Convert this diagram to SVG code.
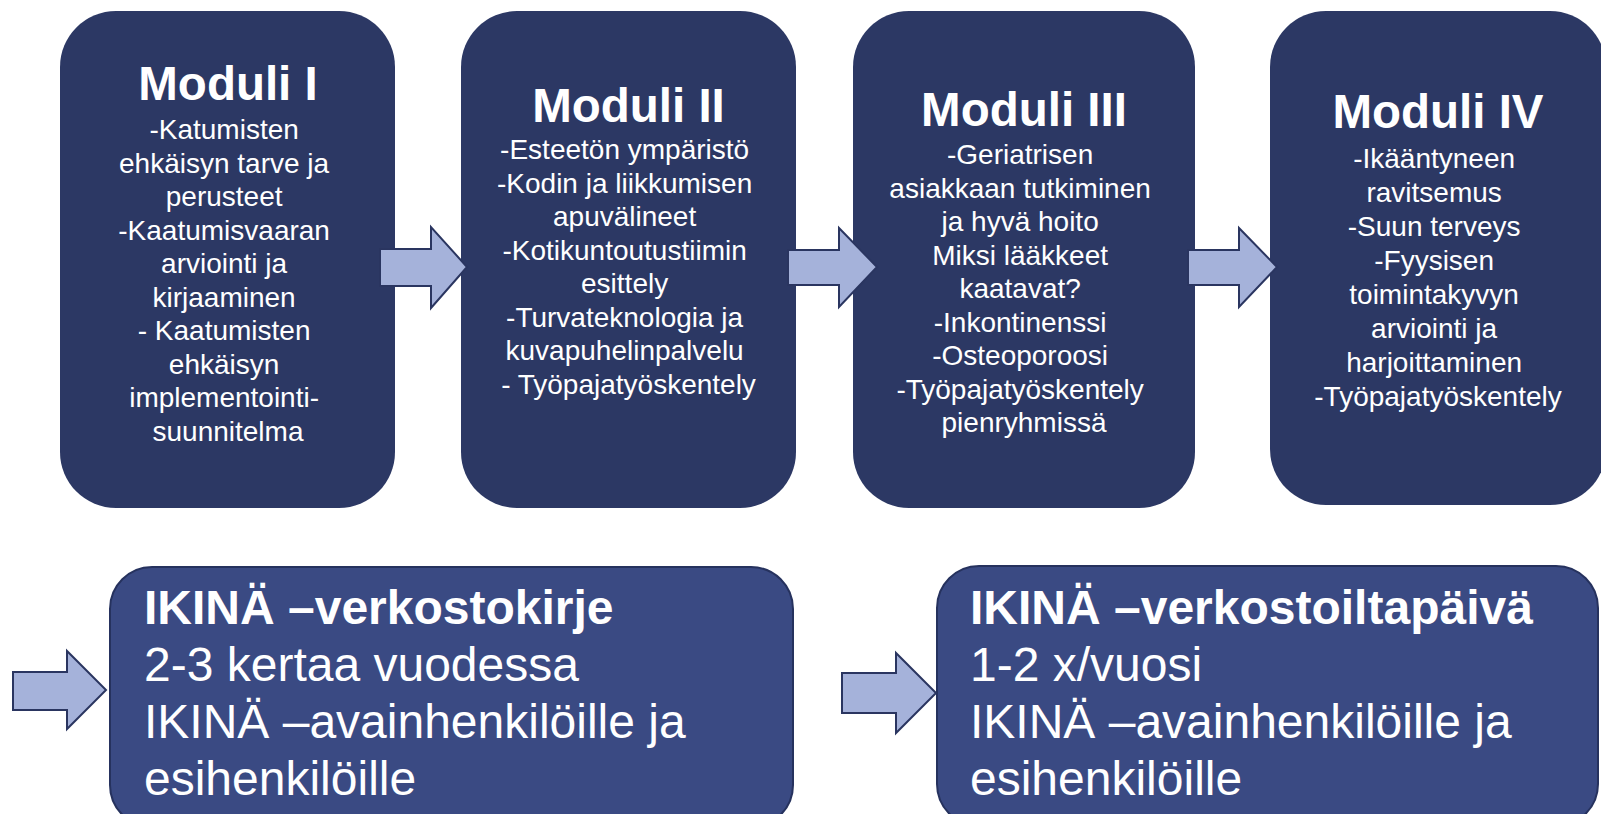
<svg xmlns="http://www.w3.org/2000/svg" width="1601" height="814" viewBox="0 0 1601 814">
<defs>
<style>
.mod{fill:#2c3864;}
.info{fill:#3a4a83;stroke:#26325e;stroke-width:2;}
.arr{fill:#a5b2da;stroke:#2a3560;stroke-width:2;stroke-linejoin:miter;}
.t{font-family:"Liberation Sans",Arial,sans-serif;fill:#ffffff;}
.title{font-size:47.5px;font-weight:bold;text-anchor:middle;}
.body{font-size:28px;text-anchor:middle;}
.bh{font-size:48px;font-weight:bold;}
.bb{font-size:48px;}
</style>
</defs>
<rect width="1601" height="814" fill="#ffffff"/>
<g id="moduli1">
<rect class="mod" x="60" y="11" width="335" height="497" rx="56" ry="56"/>
<text class="t title" x="228" y="100">Moduli I</text>
<text class="t body">
<tspan x="228" y="139">-Katumisten</tspan>
<tspan x="228" y="172.5">ehkäisyn tarve ja</tspan>
<tspan x="228" y="206">perusteet</tspan>
<tspan x="228" y="239.5">-Kaatumisvaaran</tspan>
<tspan x="228" y="273">arviointi ja</tspan>
<tspan x="228" y="306.5">kirjaaminen</tspan>
<tspan x="228" y="340">- Kaatumisten</tspan>
<tspan x="228" y="373.5">ehkäisyn</tspan>
<tspan x="228" y="407">implementointi-</tspan>
<tspan x="228" y="440.5">suunnitelma</tspan>
</text>
</g>
<g id="moduli2">
<rect class="mod" x="461" y="11" width="335" height="497" rx="56" ry="56"/>
<text class="t title" x="628.5" y="122">Moduli II</text>
<text class="t body">
<tspan x="628.5" y="159">-Esteetön ympäristö</tspan>
<tspan x="628.5" y="192.5">-Kodin ja liikkumisen</tspan>
<tspan x="628.5" y="226">apuvälineet</tspan>
<tspan x="628.5" y="259.5">-Kotikuntoutustiimin</tspan>
<tspan x="628.5" y="293">esittely</tspan>
<tspan x="628.5" y="326.5">-Turvateknologia ja</tspan>
<tspan x="628.5" y="360">kuvapuhelinpalvelu</tspan>
<tspan x="628.5" y="393.5">- Työpajatyöskentely</tspan>
</text>
</g>
<g id="moduli3">
<rect class="mod" x="853" y="11" width="342" height="497" rx="56" ry="56"/>
<text class="t title" x="1024" y="126">Moduli III</text>
<text class="t body">
<tspan x="1024" y="164">-Geriatrisen</tspan>
<tspan x="1024" y="197.5">asiakkaan tutkiminen</tspan>
<tspan x="1024" y="231">ja hyvä hoito</tspan>
<tspan x="1024" y="264.5">Miksi lääkkeet</tspan>
<tspan x="1024" y="298">kaatavat?</tspan>
<tspan x="1024" y="331.5">-Inkontinenssi</tspan>
<tspan x="1024" y="365">-Osteoporoosi</tspan>
<tspan x="1024" y="398.5">-Työpajatyöskentely</tspan>
<tspan x="1024" y="432">pienryhmissä</tspan>
</text>
</g>
<g id="moduli4">
<rect class="mod" x="1270" y="11" width="336" height="494" rx="56" ry="56"/>
<text class="t title" x="1438" y="128">Moduli IV</text>
<text class="t body">
<tspan x="1438" y="168">-Ikääntyneen</tspan>
<tspan x="1438" y="202">ravitsemus</tspan>
<tspan x="1438" y="236">-Suun terveys</tspan>
<tspan x="1438" y="270">-Fyysisen</tspan>
<tspan x="1438" y="304">toimintakyvyn</tspan>
<tspan x="1438" y="338">arviointi ja</tspan>
<tspan x="1438" y="372">harjoittaminen</tspan>
<tspan x="1438" y="406">-Työpajatyöskentely</tspan>
</text>
</g>
<g id="verkostokirje">
<rect class="info" x="110" y="567" width="683" height="260" rx="42" ry="42"/>
<text class="t bh" x="144" y="624">IKINÄ –verkostokirje</text>
<text class="t bb">
<tspan x="144" y="681">2-3 kertaa vuodessa</tspan>
<tspan x="144" y="738">IKINÄ –avainhenkilöille ja</tspan>
<tspan x="144" y="795">esihenkilöille</tspan>
</text>
</g>
<g id="verkostoiltapaiva">
<rect class="info" x="937" y="566" width="661" height="260" rx="42" ry="42"/>
<text class="t bh" x="970" y="624">IKINÄ –verkostoiltapäivä</text>
<text class="t bb">
<tspan x="970" y="681">1-2 x/vuosi</tspan>
<tspan x="970" y="738">IKINÄ –avainhenkilöille ja</tspan>
<tspan x="970" y="795">esihenkilöille</tspan>
</text>
</g>
<g id="connectors">
<polygon class="arr" points="380,249 431,249 431,227 467,267 431,308 431,286 380,286"/>
<polygon class="arr" points="788,250 839,250 839,228 877,267 839,307 839,285 788,285"/>
<polygon class="arr" points="1188,250 1239,250 1239,228 1277,267 1239,307 1239,285 1188,285"/>
<polygon class="arr" points="13,672 67,672 67,651 106,690 67,729 67,710 13,710"/>
<polygon class="arr" points="842,673 896,673 896,653 936,693 896,733 896,713 842,713"/>
</g>
</svg>
